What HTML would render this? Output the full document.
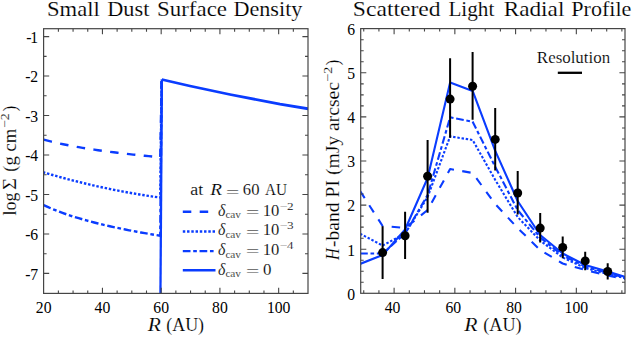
<!DOCTYPE html>
<html><head><meta charset="utf-8"><style>
html,body{margin:0;padding:0;background:#fff;width:632px;height:337px;overflow:hidden;}
svg{display:block;font-family:"Liberation Serif",serif;}
</style></head><body>
<svg xmlns="http://www.w3.org/2000/svg" width="632" height="337" viewBox="0 0 632 337">
<rect width="632" height="337" fill="#fff"/>
<defs>
<clipPath id="cl"><rect x="43.6" y="28.7" width="264.4" height="264.7"/></clipPath>
<clipPath id="cr"><rect x="360.7" y="28.6" width="264.3" height="264.7"/></clipPath>
</defs>
<g clip-path="url(#cl)" fill="none" stroke="#0a3cff" stroke-width="2.4">
<path d="M43.7 139.61L47.59 140.65L51.47 141.62L55.36 142.54L59.25 143.41L63.13 144.23L67.02 145.02L70.91 145.77L74.79 146.48L78.68 147.17L82.57 147.82L86.45 148.45L90.34 149.06L94.23 149.65L98.11 150.21L102 150.76L105.89 151.29L109.77 151.8L113.66 152.29L117.55 152.77L121.43 153.24L125.32 153.69L129.21 154.14L133.09 154.57L136.98 154.98L140.87 155.39L144.75 155.79L148.64 156.18L152.53 156.56L156.41 156.93L160.3 157.29L161.6 79.5" stroke-dasharray="8.5 8.4"/>
<path d="M43 172.21L45.93 173.08L48.87 173.93L51.8 174.77L54.73 175.6L57.66 176.42L60.59 177.22L63.53 178.01L66.46 178.8L69.39 179.57L72.33 180.32L75.26 181.07L78.19 181.81L81.12 182.53L84.06 183.24L86.99 183.94L89.92 184.63L92.85 185.3L95.78 185.97L98.72 186.62L101.65 187.26L104.58 187.89L107.52 188.5L110.45 189.11L113.38 189.7L116.31 190.28L119.25 190.85L122.18 191.41L125.11 191.96L128.04 192.49L130.98 193.01L133.91 193.52L136.84 194.02L139.77 194.51L142.71 194.99L145.64 195.45L148.57 195.9L151.5 196.34L154.44 196.77L157.37 197.19L160.3 197.59L161.6 79.5" stroke-dasharray="2.45 1.8" stroke-dashoffset="0.11"/>
<path d="M43.7 205.13L47.59 206.92L51.47 208.61L55.36 210.2L59.25 211.71L63.13 213.14L67.02 214.5L70.91 215.79L74.79 217.03L78.68 218.22L82.57 219.36L86.45 220.45L90.34 221.51L94.23 222.52L98.11 223.5L102 224.45L105.89 225.36L109.77 226.25L113.66 227.11L117.55 227.94L121.43 228.75L125.32 229.54L129.21 230.31L133.09 231.05L136.98 231.78L140.87 232.48L144.75 233.17L148.64 233.85L152.53 234.51L156.41 235.15L160.3 235.78L161.6 79.5" stroke-dasharray="7.7 2.7 3.65 2.7" stroke-dashoffset="0.07"/>
<path d="M160.4 300L161.9 79.5" stroke-width="2.3"/>
<path d="M161.8 79.5L190 86L230 94.5L280 104.1L308.5 108.8" stroke-width="2.8" stroke-linejoin="miter"/>
</g>
<path d="M102.44 293.4v-5.6M102.44 28.7v5.6M161.18 293.4v-5.6M161.18 28.7v5.6M219.92 293.4v-5.6M219.92 28.7v5.6M278.66 293.4v-5.6M278.66 28.7v5.6M58.39 293.4v-3.0M58.39 28.7v3.0M73.07 293.4v-3.0M73.07 28.7v3.0M87.75 293.4v-3.0M87.75 28.7v3.0M117.12 293.4v-3.0M117.12 28.7v3.0M131.81 293.4v-3.0M131.81 28.7v3.0M146.5 293.4v-3.0M146.5 28.7v3.0M175.87 293.4v-3.0M175.87 28.7v3.0M190.55 293.4v-3.0M190.55 28.7v3.0M205.24 293.4v-3.0M205.24 28.7v3.0M234.61 293.4v-3.0M234.61 28.7v3.0M249.29 293.4v-3.0M249.29 28.7v3.0M263.97 293.4v-3.0M263.97 28.7v3.0M293.34 293.4v-3.0M293.34 28.7v3.0M43.6 36.59h5.6M308 36.59h-5.6M43.6 76.06h5.6M308 76.06h-5.6M43.6 115.53h5.6M308 115.53h-5.6M43.6 155h5.6M308 155h-5.6M43.6 194.47h5.6M308 194.47h-5.6M43.6 233.94h5.6M308 233.94h-5.6M43.6 273.41h5.6M308 273.41h-5.6M43.6 56.33h3.0M308 56.33h-3.0M43.6 95.8h3.0M308 95.8h-3.0M43.6 135.27h3.0M308 135.27h-3.0M43.6 174.74h3.0M308 174.74h-3.0M43.6 214.21h3.0M308 214.21h-3.0M43.6 253.68h3.0M308 253.68h-3.0" stroke="#454545" stroke-width="1.1" fill="none"/>
<rect x="43.6" y="28.7" width="264.4" height="264.7" stroke="#454545" stroke-width="1.2" fill="none"/>
<g clip-path="url(#cr)" fill="none" stroke="#0a3cff" stroke-width="2.1" stroke-linejoin="round">
<path d="M360.09 191L382.6 226L405.11 228L427.62 210L450.13 169L472.64 173L495.15 204L517.66 228L540.17 250L562.68 263.5L585.19 270L607.7 275.5L630.21 280" stroke-dasharray="8.5 8.4"/>
<path d="M360.09 233.7L382.6 245.5L405.11 233.5L427.62 197L450.13 136.4L472.64 140L495.15 179.8L517.66 217L540.17 240.5L562.68 257.5L585.19 268L607.7 274L630.21 279.5" stroke-dasharray="2.45 1.8"/>
<path d="M360.09 253.5L382.6 253.5L405.11 233.5L427.62 195L450.13 117.3L472.64 121.7L495.15 166.6L517.66 210L540.17 237.5L562.68 255.5L585.19 266.5L607.7 273L630.21 279" stroke-dasharray="7.7 2.7 3.65 2.7"/>
<path d="M360.09 263.9L382.6 255.1L405.11 229.5L427.62 178L450.13 82.5L472.64 90.9L495.15 150.6L517.66 201L540.17 235L562.68 253.5L585.19 265L607.7 271.5L630.21 278.5"/>
</g>
<path d="M382.6 226.2V279M405.1 211.8V258.9M427.6 140.1V212.8M450.1 58.3V137.8M472.6 52.1V119.7M495.2 108V170.6M517.7 171V214.5M540.2 212.9V242.6M562.7 236.4V258.2M585.2 251.7V270.2M607.7 263.3V279.4" stroke="#000" stroke-width="2" fill="none"/>
<circle cx="382.6" cy="252.6" r="4.5" fill="#000"/>
<circle cx="405.1" cy="235.8" r="4.5" fill="#000"/>
<circle cx="427.6" cy="176.3" r="4.5" fill="#000"/>
<circle cx="450.1" cy="99.1" r="4.5" fill="#000"/>
<circle cx="472.6" cy="86.3" r="4.5" fill="#000"/>
<circle cx="495.2" cy="139.4" r="4.5" fill="#000"/>
<circle cx="517.7" cy="193" r="4.5" fill="#000"/>
<circle cx="540.2" cy="228.1" r="4.5" fill="#000"/>
<circle cx="562.7" cy="247.4" r="4.5" fill="#000"/>
<circle cx="585.2" cy="260.9" r="4.5" fill="#000"/>
<circle cx="607.7" cy="271.5" r="4.5" fill="#000"/>
<path d="M557.8 72.8H582" stroke="#000" stroke-width="2.3"/>
<path d="M394.11 293.3v-5.6M394.11 28.6v5.6M454.85 293.3v-5.6M454.85 28.6v5.6M515.59 293.3v-5.6M515.59 28.6v5.6M576.33 293.3v-5.6M576.33 28.6v5.6M363.74 293.3v-3.0M363.74 28.6v3.0M378.92 293.3v-3.0M378.92 28.6v3.0M409.29 293.3v-3.0M409.29 28.6v3.0M424.48 293.3v-3.0M424.48 28.6v3.0M439.66 293.3v-3.0M439.66 28.6v3.0M470.03 293.3v-3.0M470.03 28.6v3.0M485.22 293.3v-3.0M485.22 28.6v3.0M500.4 293.3v-3.0M500.4 28.6v3.0M530.77 293.3v-3.0M530.77 28.6v3.0M545.96 293.3v-3.0M545.96 28.6v3.0M561.14 293.3v-3.0M561.14 28.6v3.0M591.51 293.3v-3.0M591.51 28.6v3.0M606.7 293.3v-3.0M606.7 28.6v3.0M621.88 293.3v-3.0M621.88 28.6v3.0M360.7 249.2h5.6M625 249.2h-5.6M360.7 205.1h5.6M625 205.1h-5.6M360.7 161h5.6M625 161h-5.6M360.7 116.9h5.6M625 116.9h-5.6M360.7 72.8h5.6M625 72.8h-5.6M360.7 282.28h3.0M625 282.28h-3.0M360.7 271.25h3.0M625 271.25h-3.0M360.7 260.23h3.0M625 260.23h-3.0M360.7 238.18h3.0M625 238.18h-3.0M360.7 227.15h3.0M625 227.15h-3.0M360.7 216.12h3.0M625 216.12h-3.0M360.7 194.07h3.0M625 194.07h-3.0M360.7 183.05h3.0M625 183.05h-3.0M360.7 172.03h3.0M625 172.03h-3.0M360.7 149.97h3.0M625 149.97h-3.0M360.7 138.95h3.0M625 138.95h-3.0M360.7 127.93h3.0M625 127.93h-3.0M360.7 105.88h3.0M625 105.88h-3.0M360.7 94.85h3.0M625 94.85h-3.0M360.7 83.83h3.0M625 83.83h-3.0M360.7 61.78h3.0M625 61.78h-3.0M360.7 50.75h3.0M625 50.75h-3.0M360.7 39.72h3.0M625 39.72h-3.0" stroke="#454545" stroke-width="1.1" fill="none"/>
<rect x="360.7" y="28.6" width="264.3" height="264.7" stroke="#454545" stroke-width="1.2" fill="none"/>
<g font-family="'Liberation Serif', serif" fill="#000">
<text x="38.1" y="42.89" font-size="15.7" text-anchor="end" >1</text>
<text x="26.3" y="42.89" font-size="15.7" text-anchor="start" >-</text>
<text x="38.1" y="82.36" font-size="15.7" text-anchor="end" >2</text>
<text x="25.3" y="82.36" font-size="15.7" text-anchor="start" >-</text>
<text x="38.1" y="121.83" font-size="15.7" text-anchor="end" >3</text>
<text x="25.3" y="121.83" font-size="15.7" text-anchor="start" >-</text>
<text x="38.1" y="161.3" font-size="15.7" text-anchor="end" >4</text>
<text x="25.3" y="161.3" font-size="15.7" text-anchor="start" >-</text>
<text x="38.1" y="200.77" font-size="15.7" text-anchor="end" >5</text>
<text x="25.3" y="200.77" font-size="15.7" text-anchor="start" >-</text>
<text x="38.1" y="240.24" font-size="15.7" text-anchor="end" >6</text>
<text x="25.3" y="240.24" font-size="15.7" text-anchor="start" >-</text>
<text x="38.1" y="279.71" font-size="15.7" text-anchor="end" >7</text>
<text x="25.3" y="279.71" font-size="15.7" text-anchor="start" >-</text>
<text x="43.7" y="312.8" font-size="15.7" text-anchor="middle" >20</text>
<text x="102.44" y="312.8" font-size="15.7" text-anchor="middle" >40</text>
<text x="161.18" y="312.8" font-size="15.7" text-anchor="middle" >60</text>
<text x="219.92" y="312.8" font-size="15.7" text-anchor="middle" >80</text>
<text x="278.66" y="312.8" font-size="15.7" text-anchor="middle" >100</text>
<text x="355.2" y="299.6" font-size="15.7" text-anchor="end" >0</text>
<text x="355.2" y="255.5" font-size="15.7" text-anchor="end" >1</text>
<text x="355.2" y="211.4" font-size="15.7" text-anchor="end" >2</text>
<text x="355.2" y="167.3" font-size="15.7" text-anchor="end" >3</text>
<text x="355.2" y="123.2" font-size="15.7" text-anchor="end" >4</text>
<text x="355.2" y="79.1" font-size="15.7" text-anchor="end" >5</text>
<text x="355.2" y="35" font-size="15.7" text-anchor="end" >6</text>
<text x="392.51" y="312.8" font-size="15.7" text-anchor="middle" >40</text>
<text x="453.25" y="312.8" font-size="15.7" text-anchor="middle" >60</text>
<text x="513.99" y="312.8" font-size="15.7" text-anchor="middle" >80</text>
<text x="576.33" y="312.8" font-size="15.7" text-anchor="middle" >100</text>
</g>
<g font-family="'Liberation Serif', serif" fill="#000" stroke="#fff" stroke-width="0.15" paint-order="fill">
<text x="46.98" y="15.7" font-size="21" textLength="52.8" lengthAdjust="spacingAndGlyphs">Small</text>
<text x="107.27" y="15.7" font-size="21" textLength="42.13" lengthAdjust="spacingAndGlyphs">Dust</text>
<text x="157.06" y="15.7" font-size="21" textLength="69.93" lengthAdjust="spacingAndGlyphs">Surface</text>
<text x="233.47" y="15.7" font-size="21" textLength="68.91" lengthAdjust="spacingAndGlyphs">Density</text>
<text x="352.81" y="15.7" font-size="21" textLength="87.83" lengthAdjust="spacingAndGlyphs">Scattered</text>
<text x="448.4" y="15.7" font-size="21" textLength="45.9" lengthAdjust="spacingAndGlyphs">Light</text>
<text x="503.65" y="15.7" font-size="21" textLength="60.72" lengthAdjust="spacingAndGlyphs">Radial</text>
<text x="571.27" y="15.7" font-size="21" textLength="60.12" lengthAdjust="spacingAndGlyphs">Profile</text>
<text x="147.8" y="331.3" font-size="19" textLength="13.11" lengthAdjust="spacingAndGlyphs" font-style="italic">R</text>
<text x="166.29" y="331.3" font-size="19" textLength="37.82" lengthAdjust="spacingAndGlyphs">(AU)</text>
<text x="464.2" y="331.3" font-size="19" textLength="13.21" lengthAdjust="spacingAndGlyphs" font-style="italic">R</text>
<text x="483.28" y="331.3" font-size="19" textLength="38.34" lengthAdjust="spacingAndGlyphs">(AU)</text>
<g transform="translate(15.7 0) rotate(-90)">
<text x="-215.54" y="0" font-size="18.5" textLength="22.92" lengthAdjust="spacingAndGlyphs">log</text>
<text x="-190.14" y="0" font-size="18.5" textLength="12.1" lengthAdjust="spacingAndGlyphs">Σ</text>
<text x="-171.76" y="0" font-size="18.5" textLength="43" lengthAdjust="spacingAndGlyphs">(g cm</text>
<text x="-128.05" y="-6.6" font-size="12.5" textLength="14.67" lengthAdjust="spacingAndGlyphs">−2</text>
<text x="-111.34" y="0" font-size="18.5" textLength="5.46" lengthAdjust="spacingAndGlyphs">)</text>
</g>
<g transform="translate(339.0 0) rotate(-90)">
<text x="-260.08" y="0" font-size="18.5" textLength="11.71" lengthAdjust="spacingAndGlyphs" font-style="italic">H</text>
<text x="-246.99" y="0" font-size="18.5" textLength="164.99" lengthAdjust="spacingAndGlyphs">-band PI (mJy arcsec</text>
<text x="-82.08" y="-6.6" font-size="12.5" textLength="15.43" lengthAdjust="spacingAndGlyphs">−2</text>
<text x="-65.34" y="0" font-size="18.5" textLength="5.46" lengthAdjust="spacingAndGlyphs">)</text>
</g>
<text x="536.88" y="63.4" font-size="16.3" textLength="73.24" lengthAdjust="spacingAndGlyphs">Resolution</text>
<text x="190.35" y="194.8" font-size="16.2" textLength="12.96" lengthAdjust="spacingAndGlyphs">at</text>
<text x="210.2" y="194.8" font-size="16.2" textLength="11.76" lengthAdjust="spacingAndGlyphs" font-style="italic">R</text>
<text x="226.11" y="197.7" font-size="16.2" textLength="13.28" lengthAdjust="spacingAndGlyphs">=</text>
<text x="242.83" y="194.8" font-size="16.2" textLength="16.62" lengthAdjust="spacingAndGlyphs">60</text>
<text x="264.96" y="194.8" font-size="16.2" textLength="22.11" lengthAdjust="spacingAndGlyphs">AU</text>
<text x="218.02" y="215.85" font-size="16.5" textLength="7.36" lengthAdjust="spacingAndGlyphs" font-style="italic">δ</text>
<text x="225.4" y="218.45" font-size="11.2" textLength="15.53" lengthAdjust="spacingAndGlyphs">cav</text>
<text x="245.91" y="218.2" font-size="16.2" textLength="13.28" lengthAdjust="spacingAndGlyphs">=</text>
<text x="262.76" y="215.85" font-size="16.2" textLength="16.59" lengthAdjust="spacingAndGlyphs">10</text>
<text x="279.69" y="209.85" font-size="10.8" textLength="14.02" lengthAdjust="spacingAndGlyphs">−2</text>
<text x="218.02" y="235.45" font-size="16.5" textLength="7.36" lengthAdjust="spacingAndGlyphs" font-style="italic">δ</text>
<text x="225.4" y="238.05" font-size="11.2" textLength="15.53" lengthAdjust="spacingAndGlyphs">cav</text>
<text x="245.91" y="237.8" font-size="16.2" textLength="13.28" lengthAdjust="spacingAndGlyphs">=</text>
<text x="262.76" y="235.45" font-size="16.2" textLength="16.59" lengthAdjust="spacingAndGlyphs">10</text>
<text x="279.69" y="229.45" font-size="10.8" textLength="14.02" lengthAdjust="spacingAndGlyphs">−3</text>
<text x="218.02" y="255.05" font-size="16.5" textLength="7.36" lengthAdjust="spacingAndGlyphs" font-style="italic">δ</text>
<text x="225.4" y="257.65" font-size="11.2" textLength="15.53" lengthAdjust="spacingAndGlyphs">cav</text>
<text x="245.91" y="257.4" font-size="16.2" textLength="13.28" lengthAdjust="spacingAndGlyphs">=</text>
<text x="262.76" y="255.05" font-size="16.2" textLength="16.59" lengthAdjust="spacingAndGlyphs">10</text>
<text x="279.7" y="249.05" font-size="10.8" textLength="13.69" lengthAdjust="spacingAndGlyphs">−4</text>
<text x="218.02" y="274.65" font-size="16.5" textLength="7.36" lengthAdjust="spacingAndGlyphs" font-style="italic">δ</text>
<text x="225.4" y="277.25" font-size="11.2" textLength="15.53" lengthAdjust="spacingAndGlyphs">cav</text>
<text x="245.91" y="277" font-size="16.2" textLength="13.28" lengthAdjust="spacingAndGlyphs">=</text>
<text x="262.98" y="274.65" font-size="16.2" textLength="8.44" lengthAdjust="spacingAndGlyphs">0</text>
</g>
<g fill="none" stroke="#0a3cff" stroke-width="2.4">
<path d="M182.8 211.8H215.5" stroke-dasharray="8.5 8.4"/>
<path d="M182.8 231.5H215.5" stroke-dasharray="2.45 1.8"/>
<path d="M182.8 251.1H215.5" stroke-dasharray="7.7 2.7 3.65 2.7"/>
<path d="M182.8 270.3H215.5"/>
</g>
</svg>
</body></html>
